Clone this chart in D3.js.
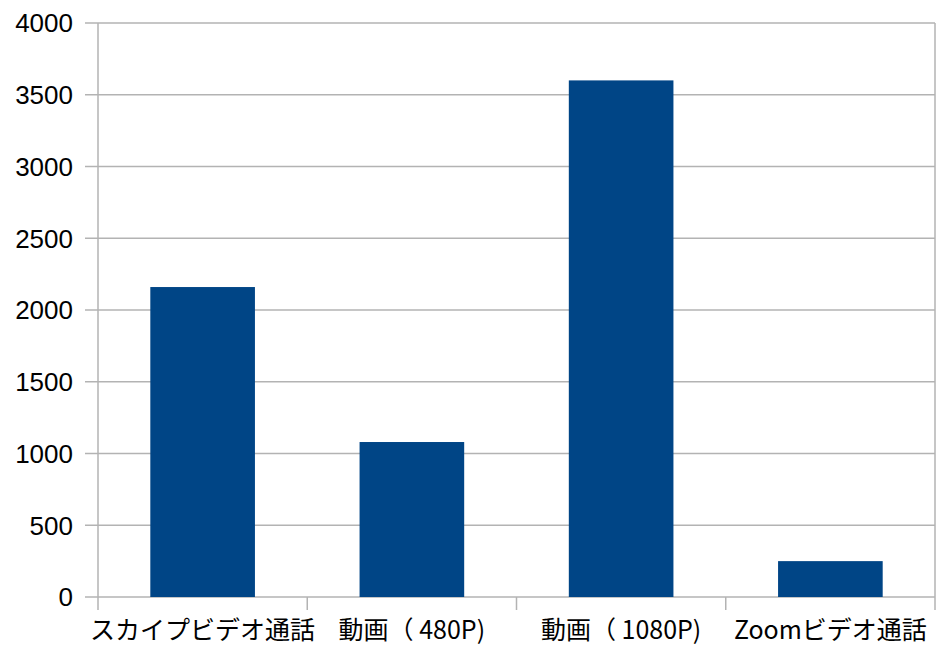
<!DOCTYPE html>
<html>
<head>
<meta charset="utf-8">
<script src="https://cdn.jsdelivr.net/npm/d3@7"></script>
<style>
  html, body { margin: 0; padding: 0; background: #fff; }
  svg { display: block; }
</style>
</head>
<body>
<svg id="chart" width="937" height="652"></svg>
<script>
const categories = ["スカイプビデオ通話", "動画（ 480P)", "動画（ 1080P)", "Zoomビデオ通話"];
const values = [2160, 1080, 3600, 250];
const yTicks = [0, 500, 1000, 1500, 2000, 2500, 3000, 3500, 4000];

const svg = d3.select("#chart");
const margin = { left: 98, right: 2, top: 23, bottom: 55 };
const W = 937, H = 652;
const x0 = margin.left, x1 = W - margin.right;
const yBase = H - margin.bottom, yTop = margin.top;

const x = d3.scaleBand().domain(categories).range([x0, x1]).paddingInner(0.5).paddingOuter(0.25);
const xb = d3.scaleBand().domain(categories).range([x0, x1]);
const y = d3.scaleLinear().domain([0, 4000]).range([yBase, yTop]);

const grid = "#b3b3b3";

// gridlines
svg.append("g").selectAll("line").data(yTicks).join("line")
  .attr("x1", x0 - 13).attr("x2", x1)
  .attr("y1", d => y(d)).attr("y2", d => y(d))
  .attr("stroke", grid).attr("stroke-width", 1.5);

// left axis line and right border
svg.append("line").attr("x1", x0).attr("x2", x0).attr("y1", yTop).attr("y2", yBase + 13)
  .attr("stroke", grid).attr("stroke-width", 1.5);
svg.append("line").attr("x1", x1).attr("x2", x1).attr("y1", yTop).attr("y2", yBase + 13)
  .attr("stroke", grid).attr("stroke-width", 1.5);

// bottom category ticks
svg.append("g").selectAll("line").data(categories.slice(1)).join("line")
  .attr("x1", d => xb(d)).attr("x2", d => xb(d))
  .attr("y1", yBase).attr("y2", yBase + 13)
  .attr("stroke", grid).attr("stroke-width", 1.5);

// bars
svg.append("g").selectAll("rect").data(values).join("rect")
  .attr("x", (d, i) => x(categories[i]))
  .attr("width", x.bandwidth())
  .attr("y", d => y(d))
  .attr("height", d => yBase - y(d))
  .attr("fill", "#004586");

// y labels
svg.append("g").selectAll("text").data(yTicks).join("text")
  .attr("x", x0 - 25).attr("y", d => y(d))
  .attr("dy", "0.36em")
  .attr("text-anchor", "end")
  .attr("font-family", "'Liberation Sans', Arial, sans-serif")
  .attr("font-size", 26)
  .attr("fill", "#000")
  .text(d => d);

// x labels
svg.append("g").selectAll("text").data(categories).join("text")
  .attr("x", d => xb(d) + xb.bandwidth() / 2)
  .attr("y", yBase + 42)
  .attr("text-anchor", "middle")
  .attr("font-family", "'Noto Sans CJK JP', 'Liberation Sans', sans-serif")
  .attr("font-size", 25)
  .attr("fill", "#000")
  .text(d => d);
</script>
</body>
</html>
